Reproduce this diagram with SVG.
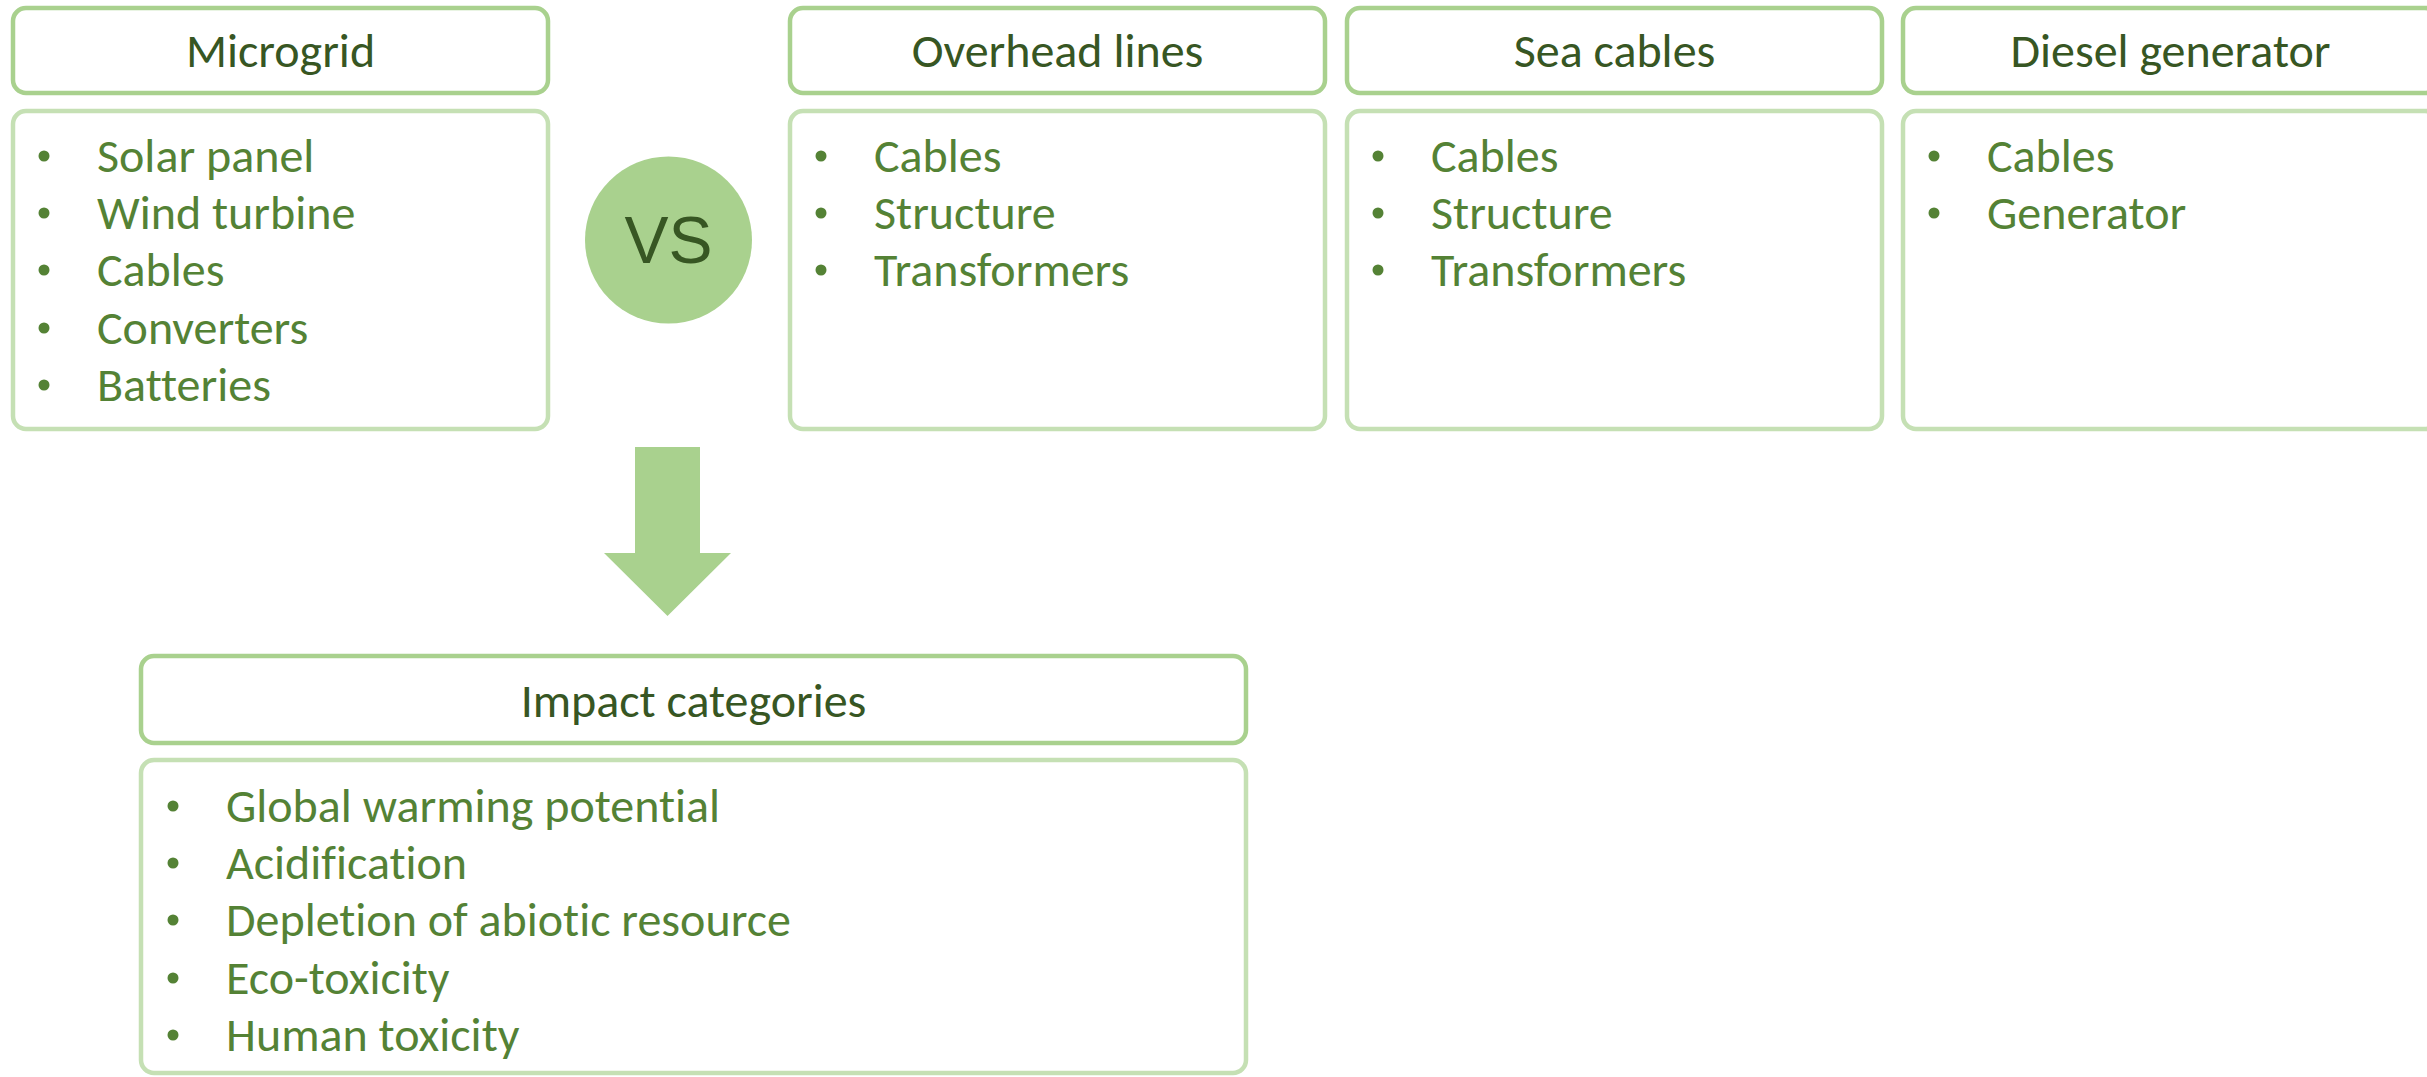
<svg xmlns="http://www.w3.org/2000/svg" width="2427" height="1077" viewBox="0 0 2427 1077">
  <style>
    .hdr { fill: #ffffff; stroke: #a9d18e; stroke-width: 4.5; }
    .body { fill: #ffffff; stroke: #c5e0b4; stroke-width: 4.5; }
    .htxt { font-family: Carlito, Lato, "Open Sans", sans-serif; font-size: 48px; fill: #375623; text-anchor: middle; font-variant-ligatures: none; }
    .btxt { font-family: Carlito, Lato, "Open Sans", sans-serif; font-size: 48px; fill: #548235; font-variant-ligatures: none; }
    .dot { fill: #548235; }
    .vs { font-family: "Liberation Sans", Arial, sans-serif; font-size: 66px; fill: #375623; text-anchor: middle; }
  </style>
  <defs>
    <circle id="bullet" r="5.5" class="dot"/>
  </defs>
  <rect width="2427" height="1077" fill="#ffffff"/>

  <!-- Microgrid -->
  <g id="microgrid">
    <rect class="hdr" x="13" y="8" width="535" height="85" rx="13"/>
    <text class="htxt" x="280.5" y="67">Microgrid</text>
    <rect class="body" x="13" y="111" width="535" height="318" rx="13"/>
    <use href="#bullet" x="44" y="156"/>
    <use href="#bullet" x="44" y="213"/>
    <use href="#bullet" x="44" y="270"/>
    <use href="#bullet" x="44" y="328"/>
    <use href="#bullet" x="44" y="385"/>
    <text class="btxt" x="97" y="172">Solar panel</text>
    <text class="btxt" x="97" y="229">Wind turbine</text>
    <text class="btxt" x="97" y="286">Cables</text>
    <text class="btxt" x="97" y="344">Converters</text>
    <text class="btxt" x="97" y="401">Batteries</text>
  </g>

  <!-- VS badge -->
  <g id="vs">
    <circle cx="668.5" cy="240" r="83.5" fill="#a9d18e"/>
    <text class="vs" x="668.5" y="263">VS</text>
  </g>

  <!-- Overhead lines -->
  <g id="overhead-lines">
    <rect class="hdr" x="790" y="8" width="535" height="85" rx="13"/>
    <text class="htxt" x="1057.5" y="67">Overhead lines</text>
    <rect class="body" x="790" y="111" width="535" height="318" rx="13"/>
    <use href="#bullet" x="821" y="156"/>
    <use href="#bullet" x="821" y="213"/>
    <use href="#bullet" x="821" y="270"/>
    <text class="btxt" x="874" y="172">Cables</text>
    <text class="btxt" x="874" y="229">Structure</text>
    <text class="btxt" x="874" y="286">Transformers</text>
  </g>

  <!-- Sea cables -->
  <g id="sea-cables">
    <rect class="hdr" x="1347" y="8" width="535" height="85" rx="13"/>
    <text class="htxt" x="1614.5" y="67">Sea cables</text>
    <rect class="body" x="1347" y="111" width="535" height="318" rx="13"/>
    <use href="#bullet" x="1378" y="156"/>
    <use href="#bullet" x="1378" y="213"/>
    <use href="#bullet" x="1378" y="270"/>
    <text class="btxt" x="1431" y="172">Cables</text>
    <text class="btxt" x="1431" y="229">Structure</text>
    <text class="btxt" x="1431" y="286">Transformers</text>
  </g>

  <!-- Diesel generator -->
  <g id="diesel-generator">
    <rect class="hdr" x="1903" y="8" width="535" height="85" rx="13"/>
    <text class="htxt" x="2170.5" y="67">Diesel generator</text>
    <rect class="body" x="1903" y="111" width="535" height="318" rx="13"/>
    <use href="#bullet" x="1934" y="156"/>
    <use href="#bullet" x="1934" y="213"/>
    <text class="btxt" x="1987" y="172">Cables</text>
    <text class="btxt" x="1987" y="229">Generator</text>
  </g>

  <!-- Block arrow down to impact categories -->
  <g id="connectors">
    <polygon points="635,447 700,447 700,553 731,553 667.5,616 604,553 635,553" fill="#a9d18e"/>
  </g>

  <!-- Impact categories -->
  <g id="impact-categories">
    <rect class="hdr" x="141" y="656" width="1105" height="87" rx="13"/>
    <text class="htxt" x="693.5" y="717">Impact categories</text>
    <rect class="body" x="141" y="760" width="1105" height="313" rx="13"/>
    <use href="#bullet" x="173" y="806"/>
    <use href="#bullet" x="173" y="863"/>
    <use href="#bullet" x="173" y="920"/>
    <use href="#bullet" x="173" y="978"/>
    <use href="#bullet" x="173" y="1035"/>
    <text class="btxt" x="226" y="822">Global warming potential</text>
    <text class="btxt" x="226" y="879">Acidification</text>
    <text class="btxt" x="226" y="936">Depletion of abiotic resource</text>
    <text class="btxt" x="226" y="994">Eco-toxicity</text>
    <text class="btxt" x="226" y="1051">Human toxicity</text>
  </g>
</svg>
